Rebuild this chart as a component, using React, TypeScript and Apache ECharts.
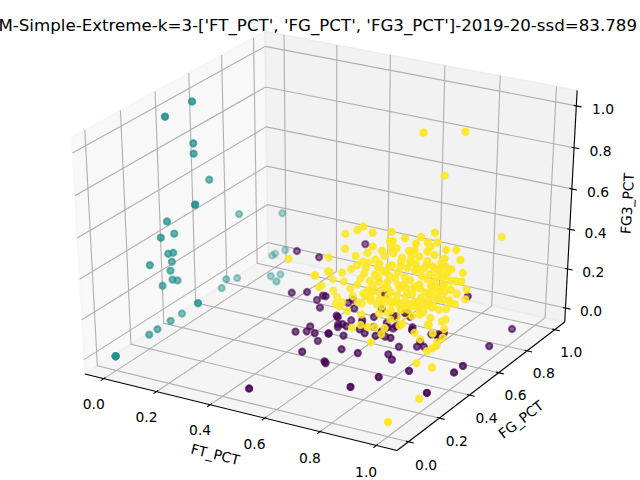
import { useEffect, useRef } from "react";
import * as echarts from "echarts";

const chartTitle =
  "KM-Simple-Extreme-k=3-['FT_PCT', 'FG_PCT', 'FG3_PCT']-2019-20-ssd=83.789";
const axisNames = ["FT_PCT", "FG_PCT", "FG3_PCT"];
const tickValues = [0, 0.2, 0.4, 0.6, 0.8, 1.0];
const tickLabels = ["0.0", "0.2", "0.4", "0.6", "0.8", "1.0"];
// viridis at 0, 0.5 and 1 for the three cluster labels
const clusterColors = ["#440154", "#21918c", "#fde725"];

// rows are [FT_PCT, FG_PCT, FG3_PCT]
// label 0: bigs, few threes
const cluster0 = [
  [0.27, 0.69, 0.25], [0.36, 0.68, 0.25], [0.35, 0.52, 0.15], [0.39, 0.55, 0.15],
  [0.41, 0.58, 0.1], [0.45, 0.55, 0.15], [0.45, 0.53, 0.1], [0.44, 0.39, 0.05],
  [0.47, 0.41, 0.05], [0.5, 0.41, 0.05], [0.46, 0.45, 0.05], [0.5, 0.43, 0.0],
  [0.54, 0.43, 0.05], [0.54, 0.43, 0.05], [0.53, 0.51, 0.05], [0.54, 0.52, 0.05],
  [0.59, 0.44, 0.05], [0.5, 0.33, 0.0], [0.6, 0.3, 0.0], [0.61, 0.29, 0.0],
  [0.6, 0.41, 0.0], [0.66, 0.41, 0.0], [0.77, 0.17, 0.0], [0.5, 0.0, 0.0],
  [0.54, 0.49, 0.1], [0.6, 0.54, 0.05], [0.64, 0.49, 0.05], [0.64, 0.55, 0.1],
  [0.64, 0.55, 0.05], [0.66, 0.6, 0.05], [0.7, 0.59, 0.1], [0.7, 0.59, 0.05],
  [0.68, 0.53, 0.05], [0.71, 0.5, 0.05], [0.7, 0.57, 0.05], [0.75, 0.61, 0.05],
  [0.76, 0.59, 0.05], [0.79, 0.59, 0.0], [0.82, 0.56, 0.0], [0.83, 0.59, 0.05],
  [0.85, 0.6, 0.05], [0.86, 0.6, 0.05], [0.81, 0.28, 0.0], [0.75, 0.45, 0.0],
  [0.78, 0.42, 0.0], [0.75, 0.52, 0.0], [0.87, 0.37, 0.0], [1.0, 0.25, 0.0],
  [1.0, 0.43, 0.0], [1.0, 0.49, 0.0], [1.0, 0.67, 0.0], [1.0, 0.83, 0.0],
  [0.86, 0.78, 0.15], [0.46, 0.81, 0.28], [0.62, 0.66, 0.15], [0.53, 0.5, 0.1],
  [0.55, 0.57, 0.15], [0.55, 0.58, 0.1], [0.63, 0.62, 0.1], [0.72, 0.63, 0.1],
  [0.74, 0.61, 0.1], [0.55, 0.56, 0.05], [0.59, 0.56, 0.05], [0.46, 0.55, 0.15],
  [0.51, 0.61, 0.1], [0.58, 0.58, 0.05], [0.69, 0.59, 0.1], [0.71, 0.63, 0.1],
  [0.54, 0.49, 0.05], [0.56, 0.51, 0.05], [0.61, 0.51, 0.05], [0.68, 0.49, 0.05],
  [0.69, 0.51, 0.05], [0.68, 0.57, 0.05], [0.73, 0.5, 0.05], [0.76, 0.59, 0.05],
  [0.8, 0.55, 0.0], [0.86, 0.62, 0.05], [0.86, 0.58, 0.05],
];

// label 1: no free throws made
const cluster1 = [
  [0, 0.5, 1.0], [0, 0.34, 1.0], [0, 0.5, 0.8], [0, 0.5, 0.75], [0, 0.59, 0.58],
  [0, 0.5, 0.5], [0, 0.5, 0.5], [0, 0.77, 0.32], [0.03, 1.0, 0.22], [0, 0.33, 0.34],
  [0, 0.36, 0.33], [0, 0.22, 0.34], [0, 0.35, 0.29], [0, 0.34, 0.25], [0, 0.35, 0.2],
  [0, 0.38, 0.18], [0, 0.29, 0.2], [0, 0.5, 0.0], [0, 0.5, 0.0], [0, 0.4, 0.0],
  [0, 0.33, 0.0], [0, 0.25, 0.0], [0, 0.2, 0.0], [0, 0.0, 0.0], [0, 0.0, 0.0],
  [0, 0.0, 0.0], [0, 0.68, 0.03], [0, 0.75, 0.0], [0, 0.65, 0.0], [0, 0.98, 0.0],
  [0, 1.0, 0.0], [0.04, 1.0, 0.03], [0.09, 0.82, 0.0], [0.11, 0.85, 0.0],
  [0.13, 0.79, 0.0], [0, 0.33, 0.5], [0, 0.37, 0.42], [0, 0.29, 0.44],
];

// label 2: shooters
const cluster2 = [
  [0.66, 0.44, 0.61], [0.71, 0.41, 0.61], [0.75, 0.46, 0.6], [0.92, 0.43, 0.66],
  [0.59, 0.45, 0.55], [0.65, 0.42, 0.6], [0.75, 0.47, 0.55], [0.87, 0.4, 0.61],
  [0.89, 0.44, 0.6], [0.94, 0.41, 0.63], [0.98, 0.46, 0.58], [0.99, 0.47, 0.53],
  [0.95, 0.44, 0.54], [0.84, 0.41, 0.56], [0.75, 0.46, 0.52], [0.7, 0.43, 0.53],
  [0.67, 0.45, 0.48], [0.73, 0.42, 0.46], [0.78, 0.47, 0.46], [0.87, 0.4, 0.51],
  [0.68, 0.44, 0.44], [0.73, 0.41, 0.45], [0.73, 0.46, 0.4], [0.77, 0.43, 0.46],
  [0.79, 0.45, 0.45], [0.84, 0.42, 0.5], [0.84, 0.47, 0.44], [0.91, 0.4, 0.52],
  [0.91, 0.44, 0.49], [0.95, 0.41, 0.5], [0.95, 0.46, 0.46], [0.67, 0.43, 0.39],
  [0.69, 0.45, 0.33], [0.73, 0.42, 0.37], [0.74, 0.47, 0.38], [0.81, 0.4, 0.39],
  [0.81, 0.44, 0.41], [0.86, 0.41, 0.39], [0.86, 0.46, 0.42], [0.91, 0.43, 0.4],
  [0.92, 0.45, 0.44], [0.96, 0.42, 0.43], [0.96, 0.47, 0.42], [0.69, 0.4, 0.3],
  [0.69, 0.44, 0.3], [0.74, 0.41, 0.32], [0.74, 0.46, 0.32], [0.79, 0.43, 0.32],
  [0.81, 0.45, 0.35], [0.85, 0.42, 0.35], [0.85, 0.47, 0.35], [0.92, 0.4, 0.38],
  [0.92, 0.44, 0.4], [0.97, 0.41, 0.4], [0.7, 0.46, 0.23], [0.74, 0.43, 0.28],
  [0.76, 0.45, 0.26], [0.81, 0.42, 0.29], [0.81, 0.47, 0.26], [0.88, 0.4, 0.33],
  [0.88, 0.44, 0.3], [0.93, 0.41, 0.32], [0.74, 0.46, 0.2], [0.79, 0.43, 0.21],
  [0.81, 0.45, 0.22], [0.85, 0.42, 0.24], [0.85, 0.47, 0.22], [0.75, 0.4, 0.54],
  [0.78, 0.44, 0.54], [0.86, 0.41, 0.57], [0.89, 0.46, 0.57], [0.96, 0.43, 0.59],
  [0.75, 0.45, 0.56], [0.82, 0.42, 0.61], [0.85, 0.47, 0.6],
  [0.89, 0.44, 0.51], [1.0, 0.47, 0.47], [0.98, 0.46, 0.43], [0.99, 0.48, 0.42],
  [0.97, 0.45, 0.39], [0.97, 0.49, 0.35], [0.99, 0.52, 0.36], [0.94, 0.43, 0.39],
  [0.95, 0.44, 0.34], [0.96, 0.46, 0.33], [0.96, 0.5, 0.29], [0.97, 0.55, 0.29],
  [0.93, 0.45, 0.28], [0.94, 0.48, 0.27], [0.9, 0.44, 0.2], [0.93, 0.47, 0.21],
  [0.97, 0.42, 0.26], [0.95, 0.45, 0.19], [0.92, 0.43, 0.17], [0.92, 0.46, 0.11],
  [0.93, 0.41, 0.11], [0.72, 0.44, 0.2], [0.74, 0.33, 0.2], [0.8, 0.45, 0.17],
  [0.86, 0.42, 0.16], [0.87, 0.44, 0.12], [0.99, 0.75, 0.5], [0.6, 0.43, 0.49],
  [0.65, 0.41, 0.48], [0.82, 0.46, 0.48], [0.66, 0.44, 0.44], [0.65, 0.42, 0.43],
  [0.6, 0.47, 0.37], [0.59, 0.43, 0.37], [0.56, 0.4, 0.38], [0.52, 0.38, 0.36],
  [0.95, 0.45, 0.45], [0.95, 0.44, 0.41], [0.98, 0.43, 0.34], [0.88, 0.46, 0.28],
  [0.88, 0.41, 0.29], [0.83, 0.44, 0.28], [0.9, 0.45, 0.23], [0.88, 0.47, 0.18],
  [0.59, 0.44, 0.32], [0.52, 0.42, 0.29], [0.54, 0.46, 0.25], [0.62, 0.43, 0.3],
  [0.58, 0.45, 0.21], [0.62, 0.41, 0.2], [0.56, 0.44, 0.2], [0.64, 0.47, 0.21],
  [0.7, 0.42, 0.27], [0.77, 0.45, 0.27], [0.82, 0.4, 0.27], [0.75, 0.46, 0.17],
  [0.8, 0.43, 0.17], [0.7, 0.3, 0.2], [0.76, 0.34, 0.2], [0.79, 0.35, 0.2],
  [0.41, 0.4, 0.4], [0.54, 0.43, 0.43], [0.5, 0.41, 0.34], [0.52, 0.46, 0.34],
  [0.55, 0.44, 0.32], [0.51, 0.42, 0.28], [0.56, 0.45, 0.23], [0.58, 0.43, 0.2],
  [0.72, 0.32, 0.21], [0.77, 0.3, 0.15], [0.97, 0.3, 0.17], [0.94, 0.42, 0.12],
  [0.94, 0.46, 0.14], [0.95, 0.27, 0.12], [1.0, 0.28, 0.11], [1.0, 0.2, 0.0],
  [1.0, 0.0, 0.0], [0.63, 0.46, 0.22], [0.77, 0.42, 0.28], [0.79, 0.47, 0.25],
  [0.91, 0.44, 0.29], [0.95, 0.41, 0.36], [0.79, 0.33, 0.18], [0.65, 0.45, 0.17],
  [0.79, 0.73, 0.75], [0.77, 0.62, 1.0], [0.88, 0.69, 1.0],
  [0.67, 0.44, 0.41], [0.72, 0.41, 0.41], [0.72, 0.46, 0.4], [0.76, 0.43, 0.45],
  [0.78, 0.45, 0.42], [0.83, 0.42, 0.47], [0.83, 0.47, 0.43], [0.9, 0.4, 0.5],
  [0.9, 0.44, 0.45], [0.94, 0.41, 0.5], [0.64, 0.46, 0.34], [0.69, 0.43, 0.36],
  [0.71, 0.45, 0.37], [0.76, 0.42, 0.38], [0.76, 0.47, 0.37], [0.83, 0.4, 0.4],
  [0.83, 0.44, 0.4], [0.88, 0.41, 0.41], [0.88, 0.46, 0.41], [0.92, 0.43, 0.42],
  [0.94, 0.45, 0.44], [0.69, 0.42, 0.32], [0.69, 0.47, 0.29], [0.76, 0.4, 0.36],
  [0.76, 0.44, 0.32], [0.81, 0.41, 0.37], [0.81, 0.46, 0.32], [0.86, 0.43, 0.38],
  [0.88, 0.45, 0.35], [0.92, 0.42, 0.39], [0.92, 0.47, 0.35], [0.71, 0.4, 0.3],
  [0.72, 0.44, 0.27], [0.77, 0.41, 0.32], [0.77, 0.46, 0.27], [0.82, 0.43, 0.32],
  [0.84, 0.45, 0.29], [0.88, 0.42, 0.34], [0.88, 0.47, 0.3], [0.94, 0.4, 0.37],
  [0.73, 0.44, 0.24], [0.78, 0.41, 0.25], [0.78, 0.46, 0.25], [0.83, 0.43, 0.26],
  [0.84, 0.45, 0.27], [0.89, 0.42, 0.27], [0.72, 0.47, 0.47], [0.79, 0.4, 0.54],
  [0.8, 0.44, 0.5], [0.85, 0.41, 0.54], [0.85, 0.46, 0.51], [0.71, 0.43, 0.47],
  [0.91, 0.45, 0.54], [0.9, 0.42, 0.57], [0.64, 0.44, 0.32], [0.64, 0.41, 0.28],
  [0.65, 0.46, 0.27], [0.96, 0.43, 0.51], [0.97, 0.45, 0.49], [0.95, 0.42, 0.53],
];

// old mplot3d defaults: elev 30, azim -60, dist 10, 5% data margins
const ELEV = 30;
const AZIM = -60;
const DIST = 10;
const LIM = [-0.05, 1.05];
const SPAN = LIM[1] - LIM[0];
const LO = LIM[0] - SPAN / 48;
const HI = LIM[1] + SPAN / 48;
const DELTA = SPAN / 12;
const PER_POINT = 48 / (72 * (6.4 + 4.8));
const TICK_OFF = (3.5 + 8) * PER_POINT * DELTA;
const LABEL_OFF = (4 + 21) * PER_POINT * DELTA;

const el = (ELEV * Math.PI) / 180;
const az = (AZIM * Math.PI) / 180;
const W = [Math.cos(el) * Math.cos(az), Math.cos(el) * Math.sin(az), Math.sin(el)];
const un = Math.hypot(W[0], W[1]);
const U = [-W[1] / un, W[0] / un, 0];
const V = [
  W[1] * U[2] - W[2] * U[1],
  W[2] * U[0] - W[0] * U[2],
  W[0] * U[1] - W[1] * U[0],
];

function project(x: number, y: number, z: number) {
  const q = [x, y, z].map((c) => (c - LIM[0]) / SPAN - 0.5);
  const dot = (a: number[]) => a[0] * q[0] + a[1] * q[1] + a[2] * q[2];
  const zv = dot(W) - DIST;
  return [dot(U) / -zv, dot(V) / -zv, DIST / zv];
}

function rgba(hex: string, a: number) {
  const n = parseInt(hex.slice(1), 16);
  return `rgba(${(n >> 16) & 255},${(n >> 8) & 255},${n & 255},${a.toFixed(3)})`;
}

const axes3d = [
  {
    edge: [[LO, LO, LO], [HI, LO, LO]],
    grid: (t: number) => [[t, LO, LO], [t, HI, LO], [t, HI, HI]],
    tick: (t: number) => [[t, LO + 0.1 * DELTA, LO], [t, LO - 0.2 * DELTA, LO]],
    tickLabel: (t: number) => [t, LO - TICK_OFF, LO - TICK_OFF],
    label: [0.5, LO - LABEL_OFF, LO - LABEL_OFF],
  },
  {
    edge: [[HI, HI, LO], [HI, LO, LO]],
    grid: (t: number) => [[LO, t, HI], [LO, t, LO], [HI, t, LO]],
    tick: (t: number) => [[HI - 0.1 * DELTA, t, LO], [HI + 0.2 * DELTA, t, LO]],
    tickLabel: (t: number) => [HI + TICK_OFF, t, LO - TICK_OFF],
    label: [HI + LABEL_OFF, 0.5, LO - LABEL_OFF],
  },
  {
    edge: [[HI, HI, LO], [HI, HI, HI]],
    grid: (t: number) => [[HI, HI, t], [LO, HI, t], [LO, LO, t]],
    tick: (t: number) => [[HI - 0.1 * DELTA, HI, t], [HI + 0.2 * DELTA, HI, t]],
    tickLabel: (t: number) => [HI + TICK_OFF, HI + TICK_OFF, t],
    label: [HI + LABEL_OFF, HI + LABEL_OFF, 0.5],
  },
];

const panes = [
  { pts: [[LO, LO, LO], [LO, HI, LO], [LO, HI, HI], [LO, LO, HI]], color: "rgba(242,242,242,0.5)" },
  { pts: [[LO, HI, LO], [HI, HI, LO], [HI, HI, HI], [LO, HI, HI]], color: "rgba(230,230,230,0.5)" },
  { pts: [[LO, LO, LO], [HI, LO, LO], [HI, HI, LO], [LO, HI, LO]], color: "rgba(236,236,236,0.5)" },
];

const FONT = "DejaVu Sans";

const App = () => {
  const chartRef = useRef<HTMLDivElement>(null);

  useEffect(() => {
    if (!chartRef.current) return;
    document.body.style.margin = "0";

    const chart = echarts.init(chartRef.current, undefined, { renderer: "svg" });

    // one scatter collection, drawn in player order
    const players: number[][] = [];
    const longest = Math.max(cluster0.length, cluster1.length, cluster2.length);
    for (let i = 0; i < longest; i++) {
      if (i < cluster2.length) players.push([...cluster2[i], 2]);
      if (i < cluster0.length) players.push([...cluster0[i], 0]);
      if (i < cluster1.length) players.push([...cluster1[i], 1]);
    }
    const depths = players.map((p) => project(p[0], p[1], p[2])[2]);
    const dMin = Math.min(...depths);
    const dMax = Math.max(...depths);

    const renderFrame = (_params: any, api: any) => {
      const px = (p: number[]) => {
        const r = project(p[0], p[1], p[2]);
        return api.coord([r[0], r[1]]);
      };
      const children: any[] = [];
      panes.forEach((pane) => {
        children.push({
          type: "polygon",
          shape: { points: pane.pts.map(px) },
          style: { fill: pane.color, stroke: pane.color, lineWidth: 1.39 },
        });
      });
      axes3d.forEach((ax, i) => {
        const a = px(ax.edge[0]);
        const b = px(ax.edge[1]);
        children.push({
          type: "line",
          shape: { x1: a[0], y1: a[1], x2: b[0], y2: b[1] },
          style: { stroke: "#000", lineWidth: 1.11 },
        });
        let ang = (Math.atan2(-(b[1] - a[1]), b[0] - a[0]) * 180) / Math.PI;
        ang = (((ang + 180) % 180) + 180) % 180;
        if (ang > 90) ang -= 180;
        const lp = px(ax.label);
        children.push({
          type: "text",
          x: lp[0],
          y: lp[1],
          rotation: (ang * Math.PI) / 180,
          style: {
            text: axisNames[i],
            fill: "#000",
            fontSize: 13.89,
            fontFamily: FONT,
            align: "center",
            verticalAlign: "middle",
            textAlign: "center",
            textVerticalAlign: "middle",
          },
        });
        tickValues.forEach((t) => {
          children.push({
            type: "polyline",
            shape: { points: ax.grid(t).map(px) },
            style: { fill: "none", stroke: "#b0b0b0", lineWidth: 1.11 },
          });
        });
        tickValues.forEach((t, k) => {
          const [c, d] = ax.tick(t).map(px);
          children.push({
            type: "line",
            shape: { x1: c[0], y1: c[1], x2: d[0], y2: d[1] },
            style: { stroke: "#000", lineWidth: 1.11 },
          });
          const tp = px(ax.tickLabel(t));
          children.push({
            type: "text",
            x: tp[0],
            y: tp[1] + 6,
            style: {
              text: tickLabels[k],
              fill: "#000",
              fontSize: 13.89,
              fontFamily: FONT,
              align: "center",
              verticalAlign: "middle",
              textAlign: "center",
              textVerticalAlign: "middle",
            },
          });
        });
      });
      return { type: "group", children };
    };

    const renderPlayer = (_params: any, api: any) => {
      const r = project(api.value(0), api.value(1), api.value(2));
      const p = api.coord([r[0], r[1]]);
      const alpha = 1 - (0.7 * (r[2] - dMin)) / (dMax - dMin);
      const color = rgba(clusterColors[api.value(3)], alpha);
      return {
        type: "circle",
        shape: { cx: p[0], cy: p[1], r: 3.1 },
        style: { fill: color, stroke: color, lineWidth: 2.08 },
      };
    };

    const option = {
      animation: false,
      grid: { left: 0, right: 0, top: 0, bottom: 0, containLabel: false },
      xAxis: { type: "value", min: -0.95 / DIST, max: 0.9 / DIST, show: false },
      yAxis: { type: "value", min: -0.95 / DIST, max: 0.9 / DIST, show: false },
      graphic: {
        elements: [
          {
            type: "text",
            x: 637,
            y: 25.5,
            style: {
              text: chartTitle,
              fill: "#000",
              fontSize: 16.67,
              fontFamily: FONT,
              align: "right",
              verticalAlign: "middle",
              textAlign: "right",
              textVerticalAlign: "middle",
            },
          },
        ],
      },
      series: [
        {
          type: "custom",
          name: "frame",
          coordinateSystem: "cartesian2d",
          silent: true,
          clip: false,
          data: [[0, 0]],
          renderItem: renderFrame,
          z: 1,
        },
        {
          type: "custom",
          name: "players",
          coordinateSystem: "cartesian2d",
          silent: true,
          clip: false,
          encode: { x: 0, y: 1 },
          data: players,
          renderItem: renderPlayer,
          z: 2,
        },
      ],
    };

    chart.setOption(option);

    const handleResize = () => {
      chart.resize();
    };
    window.addEventListener("resize", handleResize);

    return () => {
      window.removeEventListener("resize", handleResize);
      chart.dispose();
    };
  }, []);

  return <div ref={chartRef} style={{ width: "640px", height: "480px" }} />;
};

export default App;
